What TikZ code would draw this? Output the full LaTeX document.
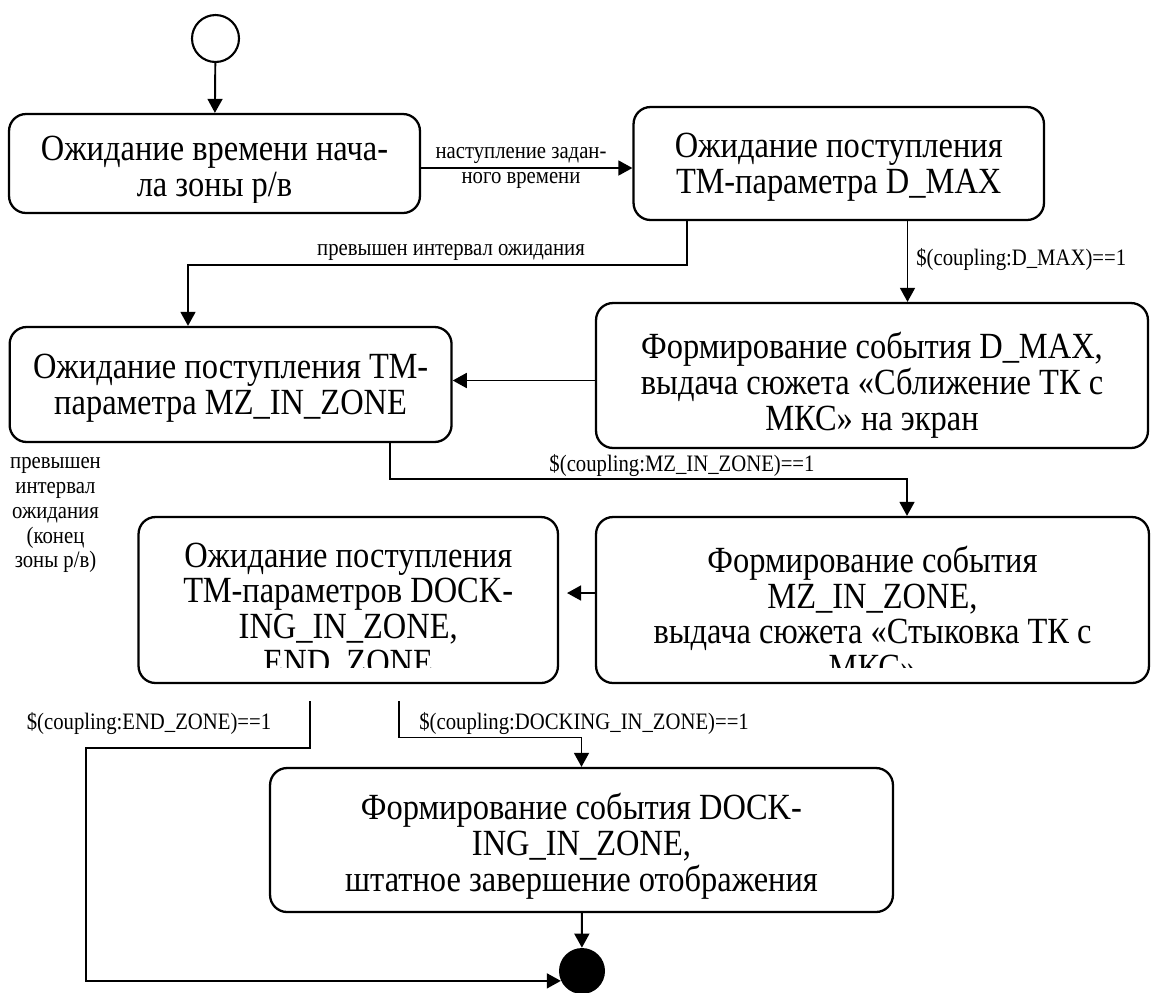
\documentclass[tikz,border=0pt]{standalone}
\usepackage{fontspec}
\setmainfont{Liberation Serif}[FakeStretch=0.88]
\usetikzlibrary{arrows.meta, positioning}

\tikzset{
  state/.style={draw, line width=1.3pt, rounded corners=0.34cm, inner sep=0pt},
  stext/.style={inner sep=0pt, align=center, font=\fontsize{21pt}{20.4pt}\selectfont},
  cond/.style={inner sep=0pt, align=center, font=\fontsize{13.4pt}{14.2pt}\selectfont},
  trans/.style={line width=1.1pt, -{Triangle[length=8pt, width=8.5pt]}},
}

\begin{document}
\begin{tikzpicture}[x=0.02cm, y=-0.02cm]
    \useasboundingbox (0,0) rectangle (1151,992);

    % states
    \node[draw, circle, line width=1.2pt, minimum size=0.94cm, inner sep=0pt] (init) at (215.5,38.5) {};
    \node[state, minimum width=8.22cm, minimum height=1.98cm] (waitStart) at (214.5,163.5) {};
    \node[state, minimum width=8.21cm, minimum height=2.26cm] (waitDmax) at (838.75,163.5) {};
    \node[state, minimum width=11.04cm, minimum height=2.9cm] (evDmax) at (872,375.5) {};
    \node[state, minimum width=8.84cm, minimum height=2.3cm] (waitMz) at (230.6,384.5) {};
    \node[state, minimum width=11.06cm, minimum height=3.32cm] (evMz) at (872.5,600) {};
    \node[state, minimum width=8.39cm, minimum height=3.32cm] (waitDock) at (348.25,600) {};
    \node[state, minimum width=12.46cm, minimum height=2.88cm] (evDock) at (581.5,840) {};
    \node[circle, fill, minimum size=0.92cm, inner sep=0pt] (final) at (582,971) {};

    % state texts, cut at the lower inner edge of the box
    \begin{scope}
        \clip (9,114) rectangle (420,202.5);
        \node[stext] (waitStartText) at (214.5,170.5) {Ожидание времени нача-\\ла зоны р/в};
    \end{scope}
    \node[stext] (waitDmaxText) at (838.75,167.5) {Ожидание поступления\\ТМ-параметра D\_MAX};
    \node[stext] (evDmaxText) at (872,385.5) {Формирование события D\_MAX,\\выдача сюжета «Сближение ТК с\\МКС» на экран};
    \node[stext] (waitMzText) at (230.6,388.5) {Ожидание поступления ТМ-\\параметра MZ\_IN\_ZONE};
    \begin{scope}
        \clip (596,517) rectangle (1149,667);
        \node[stext] (evMzText) at (872.5,613) {Формирование события\\MZ\_IN\_ZONE,\\выдача сюжета «Стыковка ТК с\\МКС»};
    \end{scope}
    \begin{scope}
        \clip (138,517) rectangle (558,667);
        \node[stext] (waitDockText) at (348.25,611) {Ожидание поступления\\ТМ-параметров DOCK-\\ING\_IN\_ZONE,\\END\_ZONE};
    \end{scope}
    \node[stext] (evDockText) at (581.5,846) {Формирование события DOCK-\\ING\_IN\_ZONE,\\штатное завершение отображения};

    % guard labels
    \node[cond] (lblStart) at (521,167.5) {наступление задан-\\ного времени};
    \node[cond] (lblWait) at (451,252) {превышен интервал ожидания};
    \node[cond, anchor=west] (lblDmax) at (916,260) {\$(coupling:D\_MAX)==1};
    \node[cond] (lblMz) at (682,465) {\$(coupling:MZ\_IN\_ZONE)==1};
    \node[cond] (lblTimeout) at (55.5,515) {превышен\\интервал\\ожидания\\(конец\\зоны р/в)};
    \node[cond] (lblEnd) at (149,723) {\$(coupling:END\_ZONE)==1};
    \node[cond, anchor=west] (lblDock) at (419,723) {\$(coupling:DOCKING\_IN\_ZONE)==1};

    % bends
    \coordinate (kStart) at (0,168);
    \coordinate (kWait1) at (687,265);
    \coordinate (kWait2) at (188,265);
    \coordinate (kDmax) at (907.5,0);
    \coordinate (kBack1) at (0,380.5);
    \coordinate (kMz1) at (390,479);
    \coordinate (kMz2) at (907,479);
    \coordinate (kBack2) at (0,593);
    \coordinate (kDock1) at (398.7,737.5);
    \coordinate (kDock2) at (581.5,737.5);
    \coordinate (kEnd1) at (310,748);
    \coordinate (kEnd2) at (86,748);

    \draw[trans] (init) -- (waitStart);
    \draw[trans] (waitStart.east |- kStart) -- (waitDmax.west |- kStart);
    \draw[trans] (waitDmax.south -| kWait1) -- (kWait1) -- (kWait2) -- (waitMz.north -| kWait2);
    \draw[trans] (waitDmax.south -| kDmax) -- (evDmax.north -| kDmax);
    \draw[trans] (evDmax.west |- kBack1) -- (waitMz.east |- kBack1);
    \draw[trans] (waitMz.south -| kMz1) -- (kMz1) -- (kMz2) -- (evMz.north -| kMz2);
    \draw[trans, shorten >=4.5pt] (evMz.west |- kBack2) -- (waitDock.east |- kBack2);
    \draw[trans, shorten <=9.7pt] (waitDock.south -| kDock1) -- (kDock1) -- (kDock2) -- (evDock.north);
    \draw[trans, shorten <=9.7pt] (waitDock.south -| kEnd1) -- (kEnd1) -- (kEnd2) |- (final.205);
    \draw[trans] (evDock) -- (final);
\end{tikzpicture}
\end{document}
